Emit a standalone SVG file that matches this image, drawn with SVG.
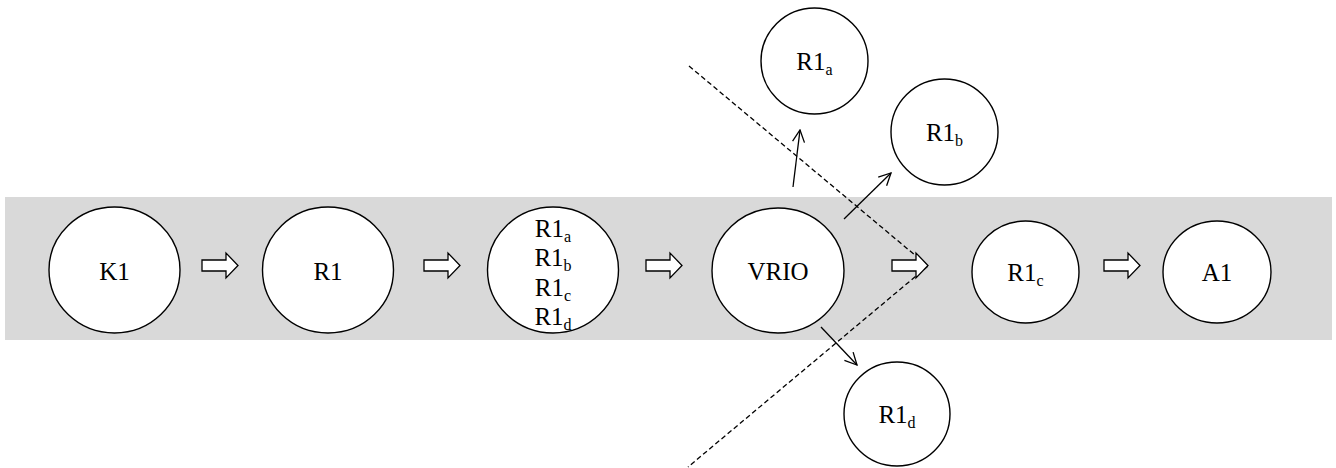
<svg xmlns="http://www.w3.org/2000/svg" width="1336" height="468" viewBox="0 0 1336 468">
  <style>
    .node { fill: #ffffff; stroke: #000000; stroke-width: 1.4; }
    .label { font-family: "Liberation Serif", "Times New Roman", serif; font-size: 25px; fill: #000000; text-anchor: middle; }
    .sub { font-size: 16px; }
    .block { fill: #ffffff; stroke: #000000; stroke-width: 1.3; stroke-linejoin: miter; }
    .link { fill: none; stroke: #000000; stroke-width: 1.3; }
    .cut { fill: none; stroke: #000000; stroke-width: 1.3; stroke-dasharray: 5 3; }
  </style>
  <defs>
    <marker id="openHead" viewBox="0 0 14 14" refX="13" refY="7" markerWidth="14" markerHeight="14" markerUnits="userSpaceOnUse" orient="auto">
      <polyline points="1,1 13,7 1,13" fill="none" stroke="#000000" stroke-width="1.3"/>
    </marker>
    <path id="blockArrow" d="M0,-5.5 H24 V-12.5 L36,0 L24,12.5 V5.5 H0 Z"/>
  </defs>

  <!-- process band -->
  <rect x="5" y="197" width="1327" height="143" fill="#d9d9d9"/>

  <!-- dashed filter boundary -->
  <g id="boundary">
    <polyline class="cut" points="689,66 928,266 688,467"/>
  </g>

  <!-- block arrows along the process band -->
  <g id="flow">
    <use href="#blockArrow" class="block" x="202" y="265.5"/>
    <use href="#blockArrow" class="block" x="424" y="265.5"/>
    <use href="#blockArrow" class="block" x="646" y="265.5"/>
    <use href="#blockArrow" class="block" x="892" y="265.5"/>
    <use href="#blockArrow" class="block" x="1104" y="265.5"/>
  </g>

  <!-- connectors out of VRIO -->
  <g id="connectors">
    <line class="link" x1="793" y1="187" x2="800" y2="130" marker-end="url(#openHead)"/>
    <line class="link" x1="844" y1="219" x2="891" y2="173" marker-end="url(#openHead)"/>
    <line class="link" x1="821" y1="327" x2="857" y2="365" marker-end="url(#openHead)"/>
  </g>

  <g id="node-K1">
    <ellipse class="node" cx="114.5" cy="270" rx="65.5" ry="63"/>
    <text class="label" x="114.5" y="280">K1</text>
  </g>

  <g id="node-R1">
    <ellipse class="node" cx="328" cy="270" rx="65.5" ry="63"/>
    <text class="label" x="328" y="280">R1</text>
  </g>

  <g id="node-R1-set">
    <ellipse class="node" cx="553" cy="270" rx="65.5" ry="63"/>
    <text class="label" x="553" y="237">R1<tspan class="sub" dy="5">a</tspan></text>
    <text class="label" x="553" y="266">R1<tspan class="sub" dy="5">b</tspan></text>
    <text class="label" x="553" y="296">R1<tspan class="sub" dy="5">c</tspan></text>
    <text class="label" x="553" y="325">R1<tspan class="sub" dy="5">d</tspan></text>
  </g>

  <g id="node-VRIO">
    <ellipse class="node" cx="778" cy="270.5" rx="66" ry="62.5"/>
    <text class="label" x="778" y="280">VRIO</text>
  </g>

  <g id="node-R1a">
    <ellipse class="node" cx="814.5" cy="61" rx="53.5" ry="53"/>
    <text class="label" x="814.5" y="70">R1<tspan class="sub" dy="5">a</tspan></text>
  </g>

  <g id="node-R1b">
    <ellipse class="node" cx="944.5" cy="132" rx="53.5" ry="53"/>
    <text class="label" x="944.5" y="141">R1<tspan class="sub" dy="5">b</tspan></text>
  </g>

  <g id="node-R1c">
    <ellipse class="node" cx="1025.5" cy="272" rx="53.5" ry="51"/>
    <text class="label" x="1025.5" y="281">R1<tspan class="sub" dy="5">c</tspan></text>
  </g>

  <g id="node-A1">
    <ellipse class="node" cx="1217" cy="272" rx="54" ry="51"/>
    <text class="label" x="1217" y="281">A1</text>
  </g>

  <g id="node-R1d">
    <ellipse class="node" cx="897" cy="414" rx="53" ry="52"/>
    <text class="label" x="897" y="423">R1<tspan class="sub" dy="5">d</tspan></text>
  </g>
</svg>
